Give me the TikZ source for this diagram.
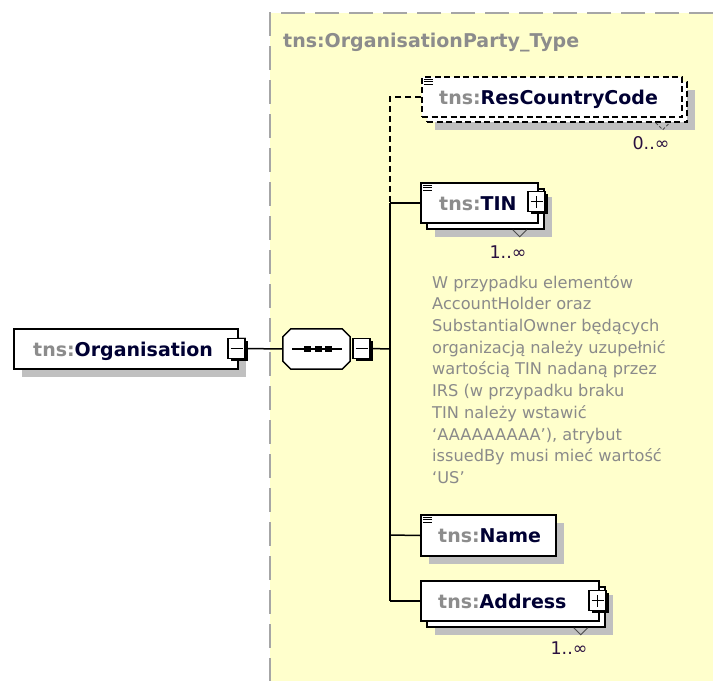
\documentclass[tikz,border=0pt]{standalone}
\usepackage{fontspec}
\setmainfont{DejaVu Sans}
\newfontfamily\notefont{DejaVu Sans}
\usetikzlibrary{shadows,calc}

\definecolor{paneyellow}{HTML}{FFFFCC}
\definecolor{panedash}{HTML}{A6A6A6}
\definecolor{shadowgray}{HTML}{C0C0C0}
\definecolor{prefixgray}{HTML}{8C8C8C}
\definecolor{elemname}{HTML}{000033}
\definecolor{notegray}{HTML}{8A8A8A}
\definecolor{multcol}{HTML}{2A1040}

\newcommand\pfx[1]{\textcolor{prefixgray}{#1}}
\newcommand\enm[1]{\textcolor{elemname}{#1}}

\begin{document}
\begin{tikzpicture}[x=1pt,y=-1pt,
  elembox/.style={rectangle, draw=black, fill=white, line width=1.5pt, inner sep=0pt},
  optbox/.style={elembox, dash pattern=on 6pt off 3.5pt},
  shad/.style={drop shadow={shadow xshift=8pt, shadow yshift=-8pt, fill=shadowgray, opacity=1}},
  pmbox/.style={rectangle, draw=black, fill=white, line width=1.3pt,
    minimum width=17pt, minimum height=20pt, inner sep=0pt,
    drop shadow={shadow xshift=2.5pt, shadow yshift=-2.5pt, fill=black, opacity=1}},
  sign/.style={line width=1.4pt},
  lbl/.style={anchor=base west, inner sep=0pt, font=\fontsize{19}{23}\selectfont\bfseries},
  ttlstyle/.style={anchor=base west, inner sep=0pt, text=prefixgray,
    font=\fontsize{19}{23}\selectfont\bfseries},
  mult/.style={inner sep=0pt, text=multcol, font=\fontsize{17.5}{21}\selectfont},
  conn/.style={line width=1.5pt, draw=black},
  optconn/.style={conn, dash pattern=on 6pt off 4pt},
  icon/.style={line width=1pt, draw=black},
  vmark/.style={line width=1pt, draw=black!70}
]
\useasboundingbox (0,0) rectangle (713,681);
\fill[white] (0,0) rectangle (713,681);

% complex type pane
\fill[paneyellow] (270,13) rectangle (713,681);
\draw[panedash, line width=2pt, dash pattern=on 24pt off 10pt] (713,13) -- (270,13) -- (270,681);
\node[ttlstyle] (ttl) at (283,47) {tns:OrganisationParty\_Type};

% root element
\node[elembox, shad, minimum width=224pt, minimum height=40pt] (org) at (126,349) {};
\node[lbl] (orgl) at (33,356) {\pfx{tns:}\enm{Organisation}};
\node[pmbox] (orgm) at (236.5,348.5) {};
\draw[sign] ([xshift=-6pt]orgm.center) -- ([xshift=6pt]orgm.center);

% sequence compositor (octagon)
\node[rectangle, inner sep=0pt, minimum width=67pt, minimum height=40pt] (seq) at (316.5,349) {};
\fill[shadowgray, shift={(8,8)}]
  ($(seq.north west)+(8,0)$) -- ($(seq.north east)+(-8,0)$) -- ($(seq.north east)+(0,8)$)
  -- ($(seq.south east)+(0,-8)$) -- ($(seq.south east)+(-8,0)$) -- ($(seq.south west)+(8,0)$)
  -- ($(seq.south west)+(0,-8)$) -- ($(seq.north west)+(0,8)$) -- cycle;
\filldraw[fill=white, draw=black, line width=1.5pt]
  ($(seq.north west)+(8,0)$) -- ($(seq.north east)+(-8,0)$) -- ($(seq.north east)+(0,8)$)
  -- ($(seq.south east)+(0,-8)$) -- ($(seq.south east)+(-8,0)$) -- ($(seq.south west)+(8,0)$)
  -- ($(seq.south west)+(0,-8)$) -- ($(seq.north west)+(0,8)$) -- cycle;
\draw[line width=1.3pt] ($(seq.center)+(-24.5,0)$) -- ($(seq.center)+(25.5,0)$);
\foreach \dx in {-9,1.5,11.5}
  \fill ($(seq.center)+(\dx,0)+(-3.5,-3)$) rectangle ++(7,6);
\node[pmbox] (seqm) at (361.5,348.5) {};
\draw[sign] ([xshift=-6pt]seqm.center) -- ([xshift=6pt]seqm.center);

% bus junctions
\coordinate (jrcc) at (390,97);
\coordinate (jtin) at (390,203);
\coordinate (jseq) at (390,349);
\coordinate (jname) at (390,535);
\coordinate (jaddr) at (390,601);

% tns:ResCountryCode (optional, repeating)
\node[optbox, shad, minimum width=260pt, minimum height=40pt] (rccback) at (557,102) {};
\draw[vmark, dash pattern=on 3pt off 2pt] ($(rccback.south east)+(-32,0)$) -- ++(7,7) -- ++(7,-7);
\node[optbox, minimum width=260pt, minimum height=40pt] (rcc) at (552,97) {};
\foreach \dy in {3,5.5,8}
  \draw[icon] ($(rcc.north west)+(3,\dy)$) -- ++(9,0);
\node[lbl] (rccl) at (439,104) {\pfx{tns:}\enm{ResCountryCode}};
\node[mult] (rccm) at (651,143) {0..∞};

% tns:TIN (repeating)
\node[elembox, shad, minimum width=117pt, minimum height=40pt] (tinback) at (485.5,209) {};
\draw[vmark] ($(tinback.south east)+(-32,0)$) -- ++(7,7) -- ++(7,-7);
\node[elembox, minimum width=117pt, minimum height=40pt] (tin) at (479.5,203) {};
\foreach \dy in {3,5.5,8}
  \draw[icon] ($(tin.north west)+(3,\dy)$) -- ++(9,0);
\node[lbl] (tinl) at (439,210) {\pfx{tns:}\enm{TIN}};
\node[pmbox] (tinp) at (536.5,201.5) {};
\draw[sign] ([xshift=-6pt]tinp.center) -- ([xshift=6pt]tinp.center)
  ([yshift=-6pt]tinp.center) -- ([yshift=6pt]tinp.center);
\node[mult] (tinm) at (508,252) {1..∞};

% documentation of tns:TIN
\node[anchor=north west, inner sep=0pt, align=left, text=notegray,
  font=\notefont\fontsize{16.2}{21.7}\selectfont] (tinnote) at (432,275)
  {W przypadku elementów\\
   AccountHolder oraz\\
   SubstantialOwner będących\\
   organizacją należy uzupełnić\\
   wartością TIN nadaną przez\\
   IRS (w przypadku braku\\
   TIN należy wstawić\\
   ‘AAAAAAAAA’), atrybut\\
   issuedBy musi mieć wartość\\
   ‘US’};

% tns:Name
\node[elembox, shad, minimum width=135pt, minimum height=41pt] (nm) at (488.5,535.5) {};
\foreach \dy in {3,5.5,8}
  \draw[icon] ($(nm.north west)+(3,\dy)$) -- ++(9,0);
\node[lbl] (nml) at (438,542) {\pfx{tns:}\enm{Name}};

% tns:Address (repeating)
\node[elembox, shad, minimum width=178pt, minimum height=40pt] (addrback) at (516,607) {};
\draw[vmark] ($(addrback.south east)+(-32,0)$) -- ++(7,7) -- ++(7,-7);
\node[elembox, minimum width=178pt, minimum height=40pt] (addr) at (510,601) {};
\node[lbl] (addrl) at (438,608) {\pfx{tns:}\enm{Address}};
\node[pmbox] (addrp) at (597.5,600.5) {};
\draw[sign] ([xshift=-6pt]addrp.center) -- ([xshift=6pt]addrp.center)
  ([yshift=-6pt]addrp.center) -- ([yshift=6pt]addrp.center);
\node[mult] (addrm) at (569,648) {1..∞};

% connectors
\draw[conn] (orgm.east) -- (seq.west);
\draw[conn] (seqm.east) -- (jseq);
\draw[optconn] (rcc.west) -- (jrcc) -- (jtin);
\draw[conn] (jtin) -- (jaddr);
\draw[conn] (jtin) -- (tin.west);
\draw[conn] (jname) -- (nm.west);
\draw[conn] (jaddr) -- (addr.west);
\end{tikzpicture}
\end{document}
